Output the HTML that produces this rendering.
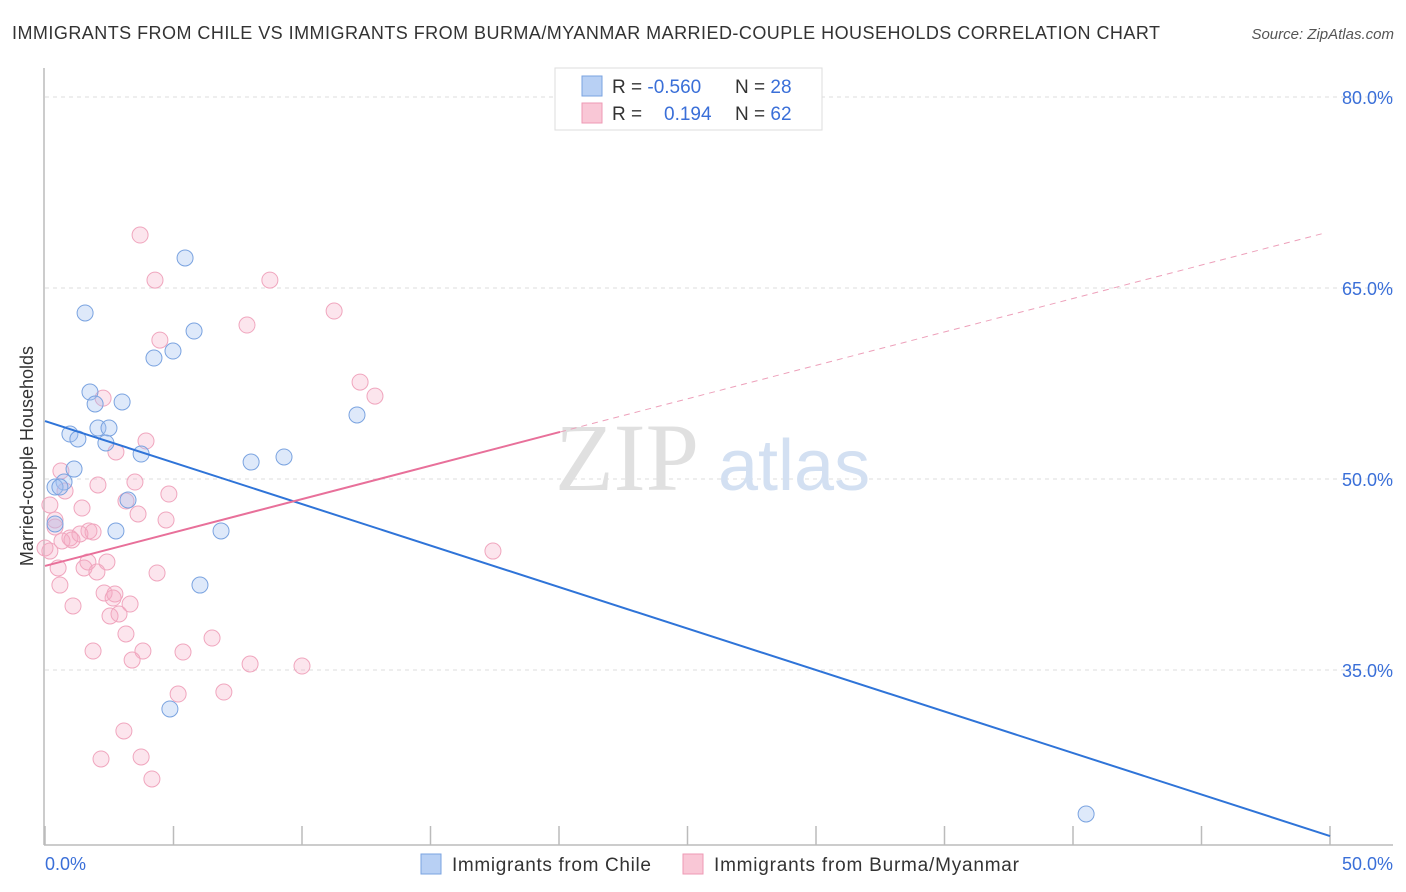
<!DOCTYPE html>
<html><head><meta charset="utf-8"><style>
body{margin:0;background:#fff;font-family:"Liberation Sans",sans-serif;}
svg{display:block}
</style></head><body>
<svg id="chart" width="1406" height="892" xmlns="http://www.w3.org/2000/svg">
<text x="12" y="39" font-size="18" fill="#333" textLength="1148" lengthAdjust="spacing">IMMIGRANTS FROM CHILE VS IMMIGRANTS FROM BURMA/MYANMAR MARRIED-COUPLE HOUSEHOLDS CORRELATION CHART</text>
<text x="1394" y="39" font-size="15" font-style="italic" fill="#555" text-anchor="end">Source: ZipAtlas.com</text>
<text x="33" y="456" font-size="18" fill="#333" text-anchor="middle" transform="rotate(-90 33 456)">Married-couple Households</text>
<g id="grid"></g>
<g><text x="555" y="490" font-size="96" font-family="Liberation Serif,serif" fill="#e0e0e0">ZIP</text><text x="718" y="490" font-size="72" fill="#d3e0f2">atlas</text></g>
<line x1="44" y1="68" x2="44" y2="845" stroke="#bbb" stroke-width="1.5"/>
<line x1="44" y1="845" x2="1393" y2="845" stroke="#bbb" stroke-width="1.5"/>
<g id="ticks"></g>
<g id="pts"></g>
<g id="trend"></g>
<text x="45" y="870" font-size="18" fill="#3a6fd8">0.0%</text>
<text x="1393" y="870" font-size="18" fill="#3a6fd8" text-anchor="end">50.0%</text>
<g>
<rect x="555" y="68" width="267" height="62" fill="#fff" stroke="#ddd"/>
<rect x="582" y="76" width="20" height="20" fill="#b8d0f4" stroke="#7aa3e0"/>
<rect x="582" y="103" width="20" height="20" fill="#f9c7d6" stroke="#ee9ab4"/>
<text x="612" y="93" font-size="19" fill="#333">R = <tspan fill="#3a6fd8">-0.560</tspan></text>
<text x="735" y="93" font-size="19" fill="#333">N = <tspan fill="#3a6fd8">28</tspan></text>
<text x="612" y="120" font-size="19" fill="#333">R = </text><text x="664" y="120" font-size="19" fill="#3a6fd8">0.194</text>
<text x="735" y="120" font-size="19" fill="#333">N = <tspan fill="#3a6fd8">62</tspan></text>
</g>
<g>
<rect x="421" y="854" width="20" height="20" fill="#b8d0f4" stroke="#7aa3e0"/>
<text x="452" y="871" font-size="19" fill="#333" textLength="199">Immigrants from Chile</text>
<rect x="683" y="854" width="20" height="20" fill="#f9c7d6" stroke="#ee9ab4"/>
<text x="714" y="871" font-size="19" fill="#333" textLength="305">Immigrants from Burma/Myanmar</text>
</g>
</svg>
<script>
const yTicks=[80,65,50,35];
const xTickVals=[0,5,10,15,20,25,30,35,40,45,50];
const chileX=[5.45,1.56,5.80,4.98,4.24,1.75,1.95,3.00,0.97,1.28,2.06,2.49,2.37,3.74,1.13,0.74,0.39,0.58,3.23,8.02,9.30,12.14,2.76,6.85,6.03,4.86,40.51,0.39];
const chileY=[67.36,63.04,61.62,60.05,59.50,56.83,55.89,56.05,53.53,53.14,54.00,54.00,52.83,51.96,50.78,49.76,49.37,49.37,48.35,51.33,51.73,55.03,45.92,45.92,41.67,31.94,23.69,46.47];
const burmaX=[3.70,4.28,8.75,11.25,7.86,4.47,12.26,12.84,2.26,3.93,2.76,0.62,0.78,2.06,3.50,4.82,3.15,1.44,3.62,4.71,0.39,0.39,0.97,1.71,1.87,1.36,0.19,17.43,1.67,2.41,0.51,1.52,2.02,4.36,0.58,2.30,2.72,2.65,3.31,1.09,2.53,2.88,3.15,6.50,1.87,3.81,5.37,3.39,7.98,10.00,5.18,6.96,3.07,2.18,3.74,4.16,0.19,0.66,1.05,0.0];
const burmaY=[69.16,65.62,65.62,63.19,62.09,60.91,57.61,56.51,56.35,52.98,52.12,50.63,49.06,49.53,49.76,48.82,48.27,47.72,47.25,46.78,46.78,46.23,45.37,45.92,45.84,45.68,44.34,44.34,43.48,43.48,43.01,43.01,42.70,42.62,41.67,41.05,40.97,40.65,40.18,40.03,39.24,39.40,37.83,37.51,36.49,36.49,36.41,35.78,35.47,35.31,33.11,33.27,30.21,28.01,28.17,26.44,47.96,45.13,45.21,44.58];
const chileTrend=[54.55,21.96];
const burmaTrend=[43.17,69.32];
const burmaSolidEnd=20.04;
const NS='http://www.w3.org/2000/svg';
const xs=v=>45+v*25.7, ys=v=>97+(80-v)*12.733;
function mk(t,a,p){const e=document.createElementNS(NS,t);for(const k in a)e.setAttribute(k,a[k]);p.appendChild(e);return e;}
const grid=document.getElementById('grid');
yTicks.forEach(v=>{
 const l=mk('line',{x1:45,x2:1393,y1:ys(v),y2:ys(v),stroke:'#ddd','stroke-dasharray':'4,4'},grid);
 
 
 const t=mk('text',{x:1393,y:ys(v)+7,'font-size':18,fill:'#3a6fd8','text-anchor':'end'},grid);
 t.textContent=v.toFixed(1)+'%';
 
 
});
const tk=document.getElementById('ticks');
xTickVals.forEach(v=>{
 const l=mk('line',{x1:xs(v),x2:xs(v),y1:826,y2:845,stroke:'#bbb','stroke-width':1.5},tk);
 
 
});
const pts=document.getElementById('pts');
burmaX.forEach((x,i)=>{
 const c=mk('circle',{cx:xs(x),cy:ys(burmaY[i]),r:8,fill:'rgba(246,170,195,0.3)',stroke:'#f0a6be','stroke-width':1},pts);
 
 
});
chileX.forEach((x,i)=>{
 const c=mk('circle',{cx:xs(x),cy:ys(chileY[i]),r:8,fill:'rgba(160,192,240,0.35)',stroke:'#7aa3e0','stroke-width':1},pts);
 
 
});
const tr=document.getElementById('trend');
const bl=mk('line',{x1:xs(0),y1:ys(chileTrend[0]),x2:xs(50),y2:ys(chileTrend[1]),stroke:'#2f74d8','stroke-width':2},tr);


const pb=x=>burmaTrend[0]+(burmaTrend[1]-burmaTrend[0])*x/49.8;
const ps=mk('line',{x1:xs(0),y1:ys(pb(0)),x2:xs(burmaSolidEnd),y2:ys(pb(burmaSolidEnd)),stroke:'#e8709a','stroke-width':2},tr);


const pd=mk('line',{x1:xs(burmaSolidEnd),y1:ys(pb(burmaSolidEnd)),x2:xs(49.8),y2:ys(pb(49.8)),stroke:'#eda0ba','stroke-width':1,'stroke-dasharray':'6,5'},tr);


</script>
</body></html>
